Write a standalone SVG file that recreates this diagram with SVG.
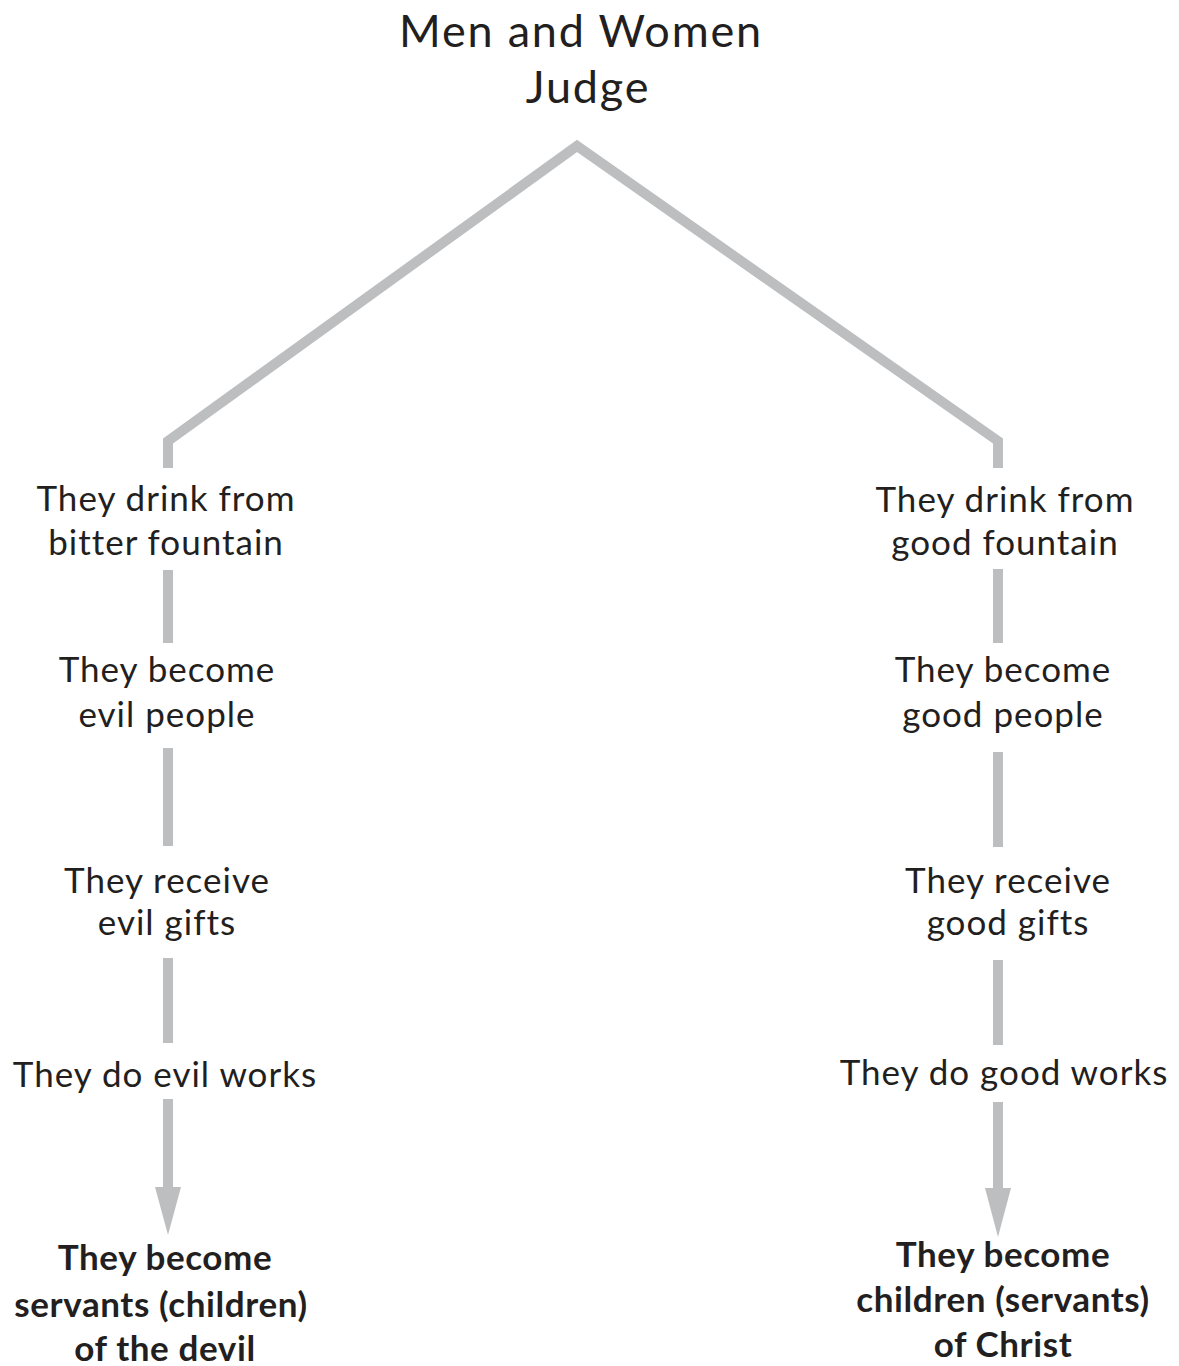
<svg xmlns="http://www.w3.org/2000/svg" width="1179" height="1366" viewBox="0 0 1179 1366">
<style>
text{font-family:Lato,"Open Sans","Liberation Sans",sans-serif;fill:#231f20;text-anchor:middle}
.t{font-size:45px;letter-spacing:1.8px}
.n{font-size:35px;letter-spacing:1px}
.b{font-size:35px;font-weight:bold;letter-spacing:0.6px}
.c{stroke:#bcbec0;stroke-width:10;fill:none;stroke-linecap:butt;stroke-linejoin:miter}
.h{fill:#bcbec0}
</style>
<rect width="1179" height="1366" fill="#fff"/>
<g id="connectors">
<path class="c" d="M168,468 V441 L577,146 L998,441 V468"/>
<path class="c" d="M168,570 V643"/>
<path class="c" d="M168,748 V846"/>
<path class="c" d="M168,958 V1043"/>
<path class="c" d="M168,1099 V1190"/>
<polygon class="h" points="155,1187 181,1187 168,1235"/>
<path class="c" d="M998,569 V643"/>
<path class="c" d="M998,752 V847"/>
<path class="c" d="M998,960 V1045"/>
<path class="c" d="M998,1102 V1190"/>
<polygon class="h" points="985,1188 1011,1188 998,1237"/>
</g>
<g id="title"><text class="t" x="581" y="47">Men and Women</text><text class="t" x="588" y="103">Judge</text></g>
<g id="l1"><text class="n" x="166" y="511">They drink from</text><text class="n" x="166" y="555">bitter fountain</text></g>
<g id="l2"><text class="n" x="167" y="682">They become</text><text class="n" x="167" y="727">evil people</text></g>
<g id="l3"><text class="n" x="167" y="893">They receive</text><text class="n" x="167" y="935">evil gifts</text></g>
<g id="l4"><text class="n" x="165" y="1087">They do evil works</text></g>
<g id="l5"><text class="b" x="165" y="1270">They become</text><text class="b" x="161" y="1317">servants (children)</text><text class="b" x="165" y="1361">of the devil</text></g>
<g id="r1"><text class="n" x="1005" y="512">They drink from</text><text class="n" x="1005" y="555">good fountain</text></g>
<g id="r2"><text class="n" x="1003" y="682">They become</text><text class="n" x="1003" y="727">good people</text></g>
<g id="r3"><text class="n" x="1008" y="893">They receive</text><text class="n" x="1008" y="935">good gifts</text></g>
<g id="r4"><text class="n" x="1004" y="1085">They do good works</text></g>
<g id="r5"><text class="b" x="1003" y="1267">They become</text><text class="b" x="1003" y="1312">children (servants)</text><text class="b" x="1003" y="1357">of Christ</text></g>
</svg>
